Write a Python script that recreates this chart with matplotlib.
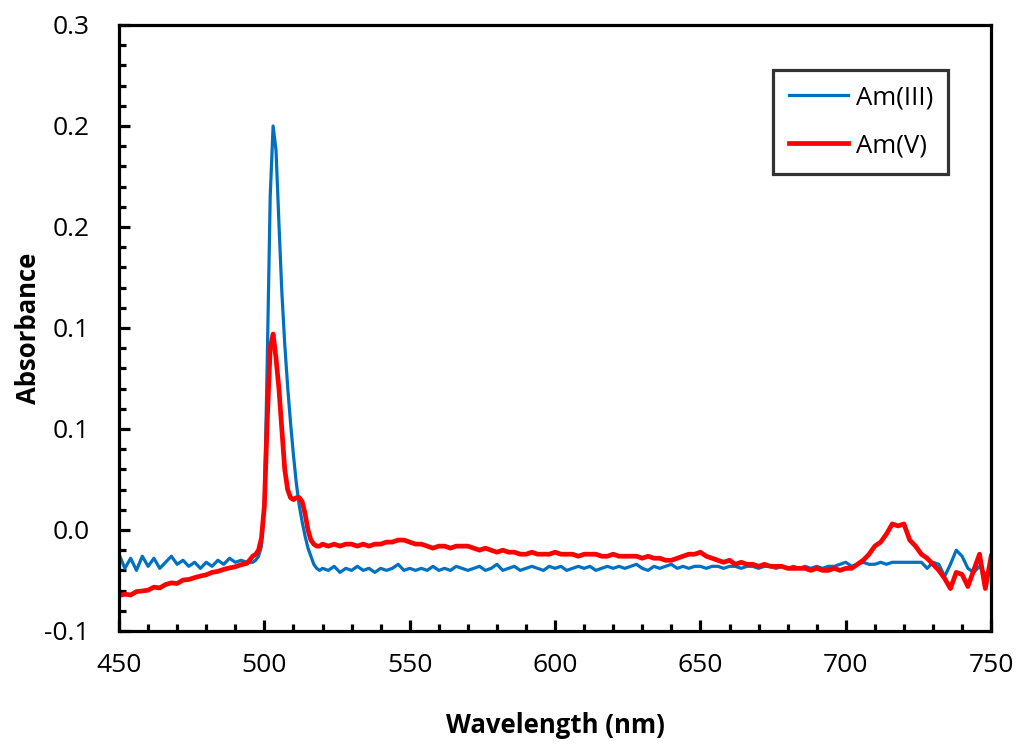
import numpy as np
import matplotlib
matplotlib.use("Agg")
import matplotlib.pyplot as plt
from matplotlib.ticker import MultipleLocator, FixedLocator, FixedFormatter

plt.rcParams['font.family'] = ['Open Sans', 'DejaVu Sans']

# wavelength grid: 2 nm steps, 1 nm through the 503 nm band
wl = np.concatenate([np.arange(450, 496, 2), np.arange(496, 521, 1), np.arange(522, 751, 2)])

am3 = [
    # 450-494
    -0.012, -0.019, -0.014, -0.020, -0.013, -0.018, -0.014, -0.019, -0.016, -0.013,
    -0.017, -0.015, -0.018, -0.016, -0.019, -0.016, -0.018, -0.015, -0.017, -0.014,
    -0.016, -0.015, -0.016,
    # 496-520
    -0.016, -0.015, -0.013, -0.008, 0.012, 0.085, 0.165, 0.200, 0.188, 0.152,
    0.118, 0.092, 0.071, 0.053, 0.037, 0.023, 0.012, 0.004, -0.003, -0.009,
    -0.013, -0.017, -0.019, -0.020, -0.019,
    # 522-750
    -0.020, -0.018, -0.021, -0.019, -0.020, -0.018, -0.020, -0.019, -0.021, -0.019,
    -0.020, -0.019, -0.017, -0.020, -0.019, -0.020, -0.019, -0.020, -0.018, -0.020,
    -0.019, -0.020, -0.018, -0.019, -0.020, -0.019, -0.018, -0.020, -0.019, -0.017,
    -0.020, -0.019, -0.018, -0.020, -0.019, -0.018, -0.019, -0.020, -0.018, -0.019,
    -0.018, -0.020, -0.019, -0.018, -0.019, -0.018, -0.020, -0.019, -0.018, -0.019,
    -0.018, -0.019, -0.018, -0.017, -0.019, -0.020, -0.018, -0.019, -0.018, -0.017,
    -0.019, -0.018, -0.019, -0.018, -0.018, -0.019, -0.018, -0.018, -0.019, -0.018,
    -0.018, -0.019, -0.018, -0.018, -0.019, -0.018, -0.018, -0.019, -0.018, -0.019,
    -0.018, -0.019, -0.018, -0.019, -0.018, -0.019, -0.018, -0.018, -0.017, -0.016,
    -0.018, -0.017, -0.016, -0.017, -0.017, -0.016, -0.017, -0.016, -0.016, -0.016,
    -0.016, -0.016, -0.016, -0.019, -0.016, -0.017, -0.023, -0.017, -0.010, -0.013,
    -0.019, -0.021, -0.018, -0.022, -0.020,
]

am5 = [
    # 450-494
    -0.0325, -0.0318, -0.0322, -0.0305, -0.0302, -0.0298, -0.0283, -0.0287, -0.0270, -0.0262,
    -0.0265, -0.0248, -0.0245, -0.0236, -0.0228, -0.0222, -0.0210, -0.0205, -0.0195, -0.0188,
    -0.0182, -0.0172, -0.0165,
    # 496-520
    -0.013, -0.012, -0.010, -0.004, 0.012, 0.055, 0.090, 0.097, 0.085, 0.070,
    0.050, 0.030, 0.020, 0.016, 0.015, 0.016, 0.016, 0.014, 0.008, 0.000,
    -0.005, -0.007, -0.008, -0.008, -0.007,
    # 522-750
    -0.008, -0.007, -0.008, -0.007, -0.007, -0.008, -0.007, -0.008, -0.007, -0.007,
    -0.006, -0.006, -0.005, -0.005, -0.006, -0.007, -0.007, -0.008, -0.009, -0.008,
    -0.008, -0.009, -0.008, -0.008, -0.008, -0.009, -0.010, -0.009, -0.010, -0.011,
    -0.010, -0.011, -0.011, -0.012, -0.012, -0.011, -0.012, -0.012, -0.012, -0.011,
    -0.012, -0.012, -0.012, -0.013, -0.012, -0.012, -0.012, -0.013, -0.013, -0.012,
    -0.013, -0.013, -0.013, -0.013, -0.014, -0.013, -0.014, -0.014, -0.015, -0.015,
    -0.014, -0.013, -0.012, -0.012, -0.011, -0.013, -0.014, -0.015, -0.016, -0.015,
    -0.017, -0.016, -0.017, -0.017, -0.018, -0.017, -0.018, -0.018, -0.018, -0.019,
    -0.019, -0.019, -0.019, -0.020, -0.019, -0.020, -0.020, -0.019, -0.020, -0.019,
    -0.019, -0.017, -0.015, -0.012, -0.008, -0.006, -0.002, 0.003, 0.002, 0.003,
    -0.005, -0.008, -0.012, -0.014, -0.017, -0.020, -0.024, -0.029, -0.021, -0.022,
    -0.028, -0.020, -0.012, -0.029, -0.013,
]

y_ticks = [-0.05, 0.0, 0.05, 0.10, 0.15, 0.20, 0.25]
y_labels = ['-0.1', '0.0', '0.1', '0.1', '0.2', '0.2', '0.3']

assert len(wl) == len(am3) == len(am5)

fig = plt.figure(figsize=(10.2, 7.46), dpi=100)
ax = fig.add_axes([0.1167, 0.1542, 0.855, 0.8123])

ax.plot(wl, am3, color='#0070C0', lw=2.3, label='Am(III)')
ax.plot(wl, am5, color='#FF0000', lw=3.4, label='Am(V)')

ax.set_xlim(450, 750)
ax.set_ylim(-0.05, 0.25)
ax.xaxis.set_major_locator(MultipleLocator(50))
ax.xaxis.set_minor_locator(MultipleLocator(10))
ax.yaxis.set_major_locator(FixedLocator(y_ticks))
ax.yaxis.set_major_formatter(FixedFormatter(y_labels))
ax.yaxis.set_minor_locator(MultipleLocator(0.01))

for s in ax.spines.values():
    s.set_linewidth(2.3)
ax.tick_params(which='major', direction='in', length=8, width=2.3, labelsize=19)
ax.tick_params(which='minor', direction='in', length=5, width=2.3)
ax.tick_params(axis='x', which='major', pad=16)
ax.tick_params(axis='y', which='major', pad=21)

ax.set_xlabel('Wavelength (nm)', fontsize=18.5, fontweight='bold', labelpad=24)
ax.set_ylabel('Absorbance', fontsize=18.5, fontweight='bold')
ax.yaxis.set_label_coords(-0.088, 0.5)

leg = ax.legend(loc='upper right', bbox_to_anchor=(0.951, 0.926), borderaxespad=0,
                fontsize=18.5, frameon=True, fancybox=False, edgecolor='black',
                handlelength=2.3, handletextpad=0.3, borderpad=0.6, labelspacing=0.9)
leg.get_frame().set_linewidth(2.3)

fig.savefig('out.png', dpi=100)
